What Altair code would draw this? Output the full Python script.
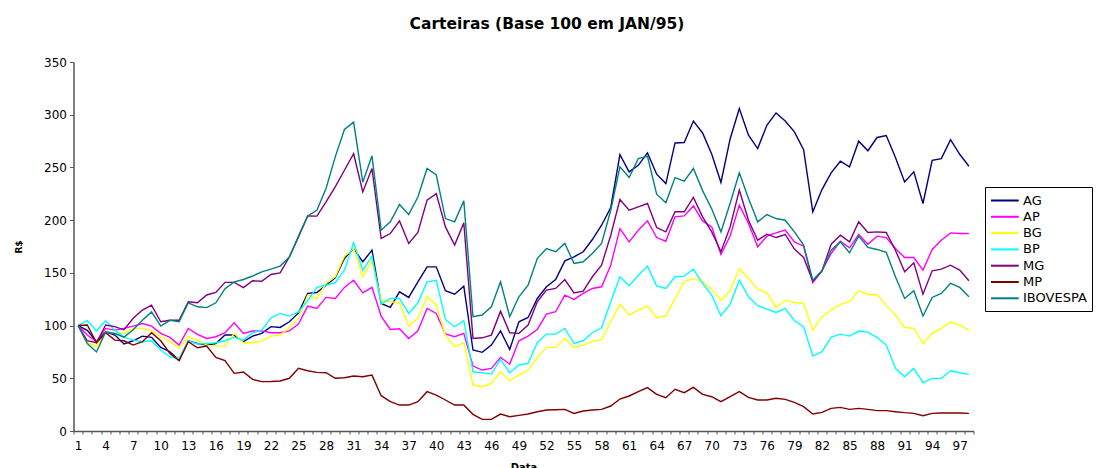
import altair as alt
import pandas as pd

dates = list(range(1, 99))

AG = [100, 95.5, 84.7, 94, 91, 82.5, 85.6, 90, 88.8, 79.3,
      75.2, 67.3, 85.6, 83, 81.5, 83, 91, 91, 84.7, 90,
      92.6, 99, 98.2, 103.6, 112, 130.5, 131.4, 138.4, 145.3, 163.6,
      173.1, 160.5, 171.5, 121, 117.2, 132, 126.7, 141.5, 155.7, 155.7,
      133, 129.8, 137.4, 76.8, 74.6, 81.5, 95, 77.4, 103.6, 107.7,
      125.7, 136.8, 143.7, 161.4, 165.2, 170, 181.6, 195.2, 212, 262.2,
      245.8, 252, 263.8, 243.6, 234.7, 273.2, 273.6, 294, 282.7, 262.5,
      235.7, 277, 305.8, 280.5, 267.9, 290, 301.7, 294, 283.7, 266.9,
      207.9, 229, 244.8, 255.9, 250.5, 274.9, 265.8, 278.4, 280.2, 259.4,
      236.3, 245.8, 215.8, 256.8, 258.4, 276.4, 262.5, 251.1]

AP = [100, 91, 84.7, 97.3, 95.7, 97.3, 99.5, 102, 99.5, 92.6,
      88.8, 81.5, 97.3, 91.6, 87.8, 89.4, 93.2, 102.7, 92.6, 94.8,
      95, 93.2, 93.2, 95, 101.4, 118.5, 116.3, 126.7, 125.7, 136.2,
      143, 131, 136.2, 109, 96.3, 97, 87.8, 95, 116.3, 111.5,
      92, 89.4, 92.6, 61.6, 57.8, 59.4, 69.8, 63.5, 85.6, 90,
      96.3, 110.9, 113.1, 128.9, 124.8, 130.5, 135.2, 136.8, 157.3, 192,
      179.4, 190.4, 199.3, 183.5, 180, 203.1, 204, 213.5, 199.3, 193.6,
      167.4, 185, 214.2, 196.8, 174.7, 184.8, 187.9, 190.5, 179.4, 175.3,
      140.6, 151.9, 168.4, 180, 173.7, 186.4, 177.2, 184.8, 183.5, 173.1,
      164.6, 164.6, 152.6, 172.2, 181, 187.9, 187.3, 187.3]

BG = [100, 83.7, 80, 94, 92.6, 92.6, 97.3, 97.3, 95, 89.4,
      84.7, 79, 89.4, 86.2, 81.5, 80.5, 80.5, 92.6, 83.7, 83.7,
      85.3, 90, 91, 98, 107, 128.9, 125.7, 140, 146.3, 165.8,
      173.1, 146.3, 161.4, 123.5, 122.6, 121.6, 99.5, 106.8, 127.3, 119.4,
      91, 79.9, 83.7, 43.6, 42, 45.2, 56.2, 47.7, 53, 57.8,
      69.8, 79.3, 79.3, 87.8, 79.3, 81.5, 84.7, 86.9, 103.6, 120.4,
      109.9, 114.7, 118.5, 107.4, 109.3, 125.7, 141.5, 144.7, 141.5, 134.3,
      124.1, 133, 154.2, 144.7, 134.6, 131, 117.2, 124.1, 121.9, 121,
      95.7, 108.4, 114.7, 120.1, 122.6, 133, 129.5, 129.5, 119.4, 109.9,
      98.2, 97.3, 83, 92.6, 97.3, 103.6, 100.5, 95.7]

BP = [100, 104.6, 95, 104.6, 95.7, 88.8, 86.2, 84.7, 85.6, 76.8,
      70.4, 68.9, 85.6, 82.5, 83, 83.7, 85.6, 88.8, 86.2, 93.2,
      95.7, 107.4, 111.5, 109, 113, 123.5, 136.2, 138.4, 140.6, 152.6,
      178.5, 152.6, 165.8, 120.4, 125.7, 125.7, 111.5, 121.6, 141.5, 143,
      105.8, 98.9, 104.6, 56.2, 55.3, 54, 67.9, 55.3, 62.6, 64.1,
      83.7, 91.9, 91.9, 97.3, 83, 85.6, 93.2, 97.9, 122.6, 146.3,
      137.7, 147.8, 156.4, 137.7, 135.2, 146.3, 146.9, 153.5, 140, 128.9,
      109.3, 120.4, 143, 127.3, 118.8, 115.6, 112.5, 116.3, 104.6, 98.9,
      71.1, 75.2, 88.8, 91.9, 90, 94.8, 93.5, 88.8, 81.5, 59.4,
      51.5, 59.4, 45.8, 49.9, 49.9, 57.2, 55.3, 53.7]

MG = [100, 85.6, 83.7, 100.5, 99, 96, 107, 114.7, 119.4, 103.6,
      105, 105, 122.6, 121.6, 129, 131.4, 141, 141, 136, 142.5,
      142, 148.5, 150, 165, 184, 204, 203.8, 217.3, 231.5, 247.3,
      263, 226.8, 249, 182.6, 187.3, 199.3, 177.9, 188.3, 219, 225.2,
      193.6, 176.3, 197.4, 87.8, 88.4, 91, 113.7, 93.2, 92.6, 100.5,
      122.6, 133.6, 135.2, 143.7, 131, 132.7, 146.3, 157.3, 185.7, 219.5,
      209.4, 212.6, 215.8, 193, 188.9, 207.9, 207.9, 221.5, 203.1, 188.9,
      170, 193.6, 228.4, 199.9, 181, 186.7, 183.5, 186.4, 172.5, 164.6,
      142.2, 151.9, 177.2, 185.7, 179.4, 198.4, 188.3, 188.9, 188.3, 171.5,
      151, 159.5, 129.8, 151.9, 153.5, 157.3, 152.6, 142.5]

MP = [100, 100.5, 83.7, 93.2, 86.2, 85.6, 81.5, 84.7, 93.2, 85.6,
      73.6, 66.7, 84.7, 79, 80.5, 69.8, 66.7, 54.7, 56, 49,
      46.8, 47, 47.4, 50, 59.4, 57.2, 55.6, 55.3, 50, 50.5,
      52.1, 51.5, 53, 33.5, 27.8, 24.6, 24.6, 27.8, 37.3, 34.1,
      29.4, 24.6, 24.6, 15.8, 11, 11, 16.1, 13.6, 14.8, 16.1,
      18.3, 19.9, 20.2, 20.5, 16.7, 19, 19.9, 20.5, 23.7, 30.3,
      33.2, 37.3, 41.1, 34.8, 31.6, 39.5, 36.3, 41.4, 34.8, 32.5,
      27.8, 32.5, 37.3, 31.9, 29.4, 29.4, 31, 30, 27.2, 23.1,
      16.1, 17.7, 21.5, 22.4, 20.5, 21.5, 20.5, 19.3, 19.3, 18.3,
      17.4, 16.7, 14.5, 16.7, 17.1, 17.1, 17.1, 16.7]

IBOVESPA = [100, 83, 75, 94, 92.5, 89, 96, 105, 113, 99.5,
            105, 103.6, 121.6, 117.8, 117, 121.6, 135, 141.5, 143.7, 147,
            151, 153.5, 156.4, 165, 185, 204, 209.4, 230, 260, 286,
            293, 236, 261, 190.5, 198.4, 214.8, 205.3, 222, 249, 243,
            201.5, 198.4, 218.3, 108.4, 110, 117.8, 141.5, 108.4, 127.3, 138.4,
            163.6, 173.1, 170, 177.9, 158.9, 160.5, 168.4, 177.9, 209.4, 250.5,
            240.4, 258.4, 260.6, 224.6, 216.4, 240.4, 236.9, 249, 228, 210.6,
            188.9, 216, 245, 220.5, 198.4, 205.3, 201.5, 199.9, 188.9, 176.3,
            143.1, 151.9, 171.5, 179.4, 169.1, 184.8, 174.1, 172.2, 169.4, 146.3,
            125.7, 133, 109, 126.7, 130.5, 140, 136.2, 127.3]

names = ["AG", "AP", "BG", "BP", "MG", "MP", "IBOVESPA"]
colors = ["#000080", "#FF00FF", "#FFFF00", "#00FFFF", "#800080", "#800000", "#008080"]
y_ticks = [0, 50, 100, 150, 200, 250, 300, 350]

series = {"AG": AG, "AP": AP, "BG": BG, "BP": BP, "MG": MG, "MP": MP, "IBOVESPA": IBOVESPA}
rows = []
for name in names:
    for d, v in zip(dates, series[name]):
        rows.append({"Data": d, "Carteira": name, "Valor": v})
df = pd.DataFrame(rows)

FONT = "DejaVu Sans"

chart = alt.Chart(df).mark_line(strokeWidth=1.4).encode(
    x=alt.X(
        "Data:O",
        sort=dates,
        bandPosition=0.5,
        scale=alt.Scale(type="band", paddingInner=0, paddingOuter=0),
        axis=alt.Axis(
            labelExpr="((datum.value - 1) % 3 == 0) ? datum.label : ''",
            labelAngle=0,
            labelOverlap=False,
            labelBound=False,
            tickBand="extent",
            tickSize=3,
            labelPadding=6,
            title="Data",
            titlePadding=11,
            grid=False,
        ),
    ),
    y=alt.Y(
        "Valor:Q",
        scale=alt.Scale(domain=[0, 350], nice=False),
        axis=alt.Axis(values=y_ticks, title="R$", grid=False, tickSize=4,
                      labelPadding=3, titlePadding=20, titleFontSize=9),
    ),
    color=alt.Color(
        "Carteira:N",
        scale=alt.Scale(domain=names, range=colors),
        sort=names,
        legend=alt.Legend(
            title=None,
            orient="none",
            legendX=911.5,
            legendY=125,
            strokeColor="black",
            fillColor="white",
            padding=5,
            symbolType="M-1,0H2.7",
            symbolSize=225,
            symbolStrokeWidth=2,
            labelFont=FONT,
            labelFontSize=13,
            labelColor="black",
            labelOffset=16,
            rowPadding=0.3,
        ),
    ),
).properties(
    width=900,
    height=369,
    title=alt.TitleParams(
        "Carteiras (Base 100 em JAN/95)",
        font=FONT,
        fontSize=15.5,
        fontWeight="bold",
        anchor="middle",
        frame="group",
        dx=23.5,
        offset=24,
        color="black",
    ),
    autosize=alt.AutoSizeParams(type="none"),
    padding={"left": 65.5, "top": 54, "right": 120.5, "bottom": 37},
).configure_view(
    stroke=None
).configure_axis(
    labelFont=FONT,
    labelFontSize=12,
    labelColor="black",
    titleFont=FONT,
    titleFontSize=10,
    titleFontWeight="bold",
    titleColor="black",
    domainColor="#555555",
    tickColor="#555555",
    domainWidth=1.5,
)

chart.save("out.html", embed_options={"renderer": "svg", "actions": False})
